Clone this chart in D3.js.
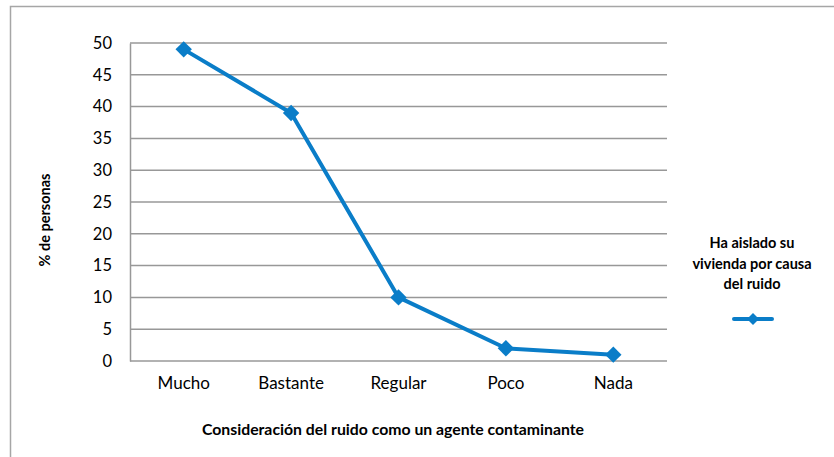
<!DOCTYPE html>
<html><head><meta charset="utf-8">
<script src="https://cdn.jsdelivr.net/npm/d3@7/dist/d3.min.js"></script>
<style>body{margin:0;background:#fff}svg{display:block}</style>
</head><body>
<svg id="c" width="834" height="457"></svg>
<script>
const categories = ["Mucho", "Bastante", "Regular", "Poco", "Nada"];
const values = [49, 39, 10, 2, 1];
const yTicks = [0, 5, 10, 15, 20, 25, 30, 35, 40, 45, 50];
const seriesName = ["Ha aislado su", "vivienda por causa", "del ruido"];
const yTitle = "% de personas";
const xTitle = "Consideración del ruido como un agente contaminante";

const font = "Lato, 'Open Sans', sans-serif";
const blue = "#0A7DC8";
const svg = d3.select("#c");

svg.append("rect").attr("x", 10.5).attr("y", 6.5).attr("width", 900).attr("height", 600)
  .attr("fill", "#fff").attr("stroke", "#a6a6a6").attr("stroke-width", 1.5);

const L = 130, R = 667, T = 43, B = 361;
const x = d3.scaleBand().domain(categories).range([L, R]);
const y = d3.scaleLinear().domain([0, 50]).range([B, T]);

// gridlines
svg.append("g").selectAll("line").data(yTicks).join("line")
  .attr("x1", L).attr("x2", R).attr("y1", d => y(d)).attr("y2", d => y(d))
  .attr("stroke", "#989898").attr("stroke-width", 1.5);

// y axis
const ya = svg.append("g").attr("transform", `translate(${L},0)`)
  .call(d3.axisLeft(y).tickValues(yTicks).tickSize(0).tickPadding(18));
ya.select(".domain").attr("stroke", "#989898").attr("stroke-width", 1.5);
ya.selectAll("text").attr("font-family", font).attr("font-size", 16.5).attr("fill", "#000");

// x axis
const xa = svg.append("g").attr("transform", `translate(0,${B})`)
  .call(d3.axisBottom(x).tickSize(0).tickPadding(16));
xa.select(".domain").remove();
xa.selectAll("text").attr("font-family", font).attr("font-size", 17).attr("fill", "#000");

// line
const cx = d => x(d) + x.bandwidth() / 2;
svg.append("path").datum(categories.map((c, i) => [cx(c), y(values[i])]))
  .attr("d", d3.line()).attr("fill", "none").attr("stroke", blue).attr("stroke-width", 4)
  .attr("stroke-linejoin", "round");
svg.append("g").selectAll("path").data(values).join("path")
  .attr("d", d3.symbol().type(d3.symbolSquare).size(135))
  .attr("transform", (d, i) => `translate(${cx(categories[i])},${y(d)}) rotate(45)`)
  .attr("fill", blue);

// titles
svg.append("text").attr("transform", `translate(50,${(T + B) / 2 + 18}) rotate(-90)`)
  .attr("text-anchor", "middle").attr("font-family", font).attr("font-weight", "bold")
  .attr("font-size", 14.5).text(yTitle);
svg.append("text").attr("x", 393).attr("y", 435).attr("text-anchor", "middle")
  .attr("font-family", font).attr("font-weight", "bold").attr("font-size", 15.8).text(xTitle);

// legend
svg.append("text").attr("text-anchor", "middle").attr("font-family", font)
  .attr("font-weight", "bold").attr("font-size", 14.5)
  .selectAll("tspan").data(seriesName).join("tspan")
  .attr("x", 752).attr("y", (d, i) => 248 + i * 20.5).text(d => d);
svg.append("line").attr("x1", 734).attr("x2", 772).attr("y1", 319).attr("y2", 319)
  .attr("stroke", blue).attr("stroke-width", 4).attr("stroke-linecap", "round");
svg.append("path").attr("transform", "translate(753,319) rotate(45)")
  .attr("d", d3.symbol().type(d3.symbolSquare).size(72)).attr("fill", blue);
</script>
</body></html>
